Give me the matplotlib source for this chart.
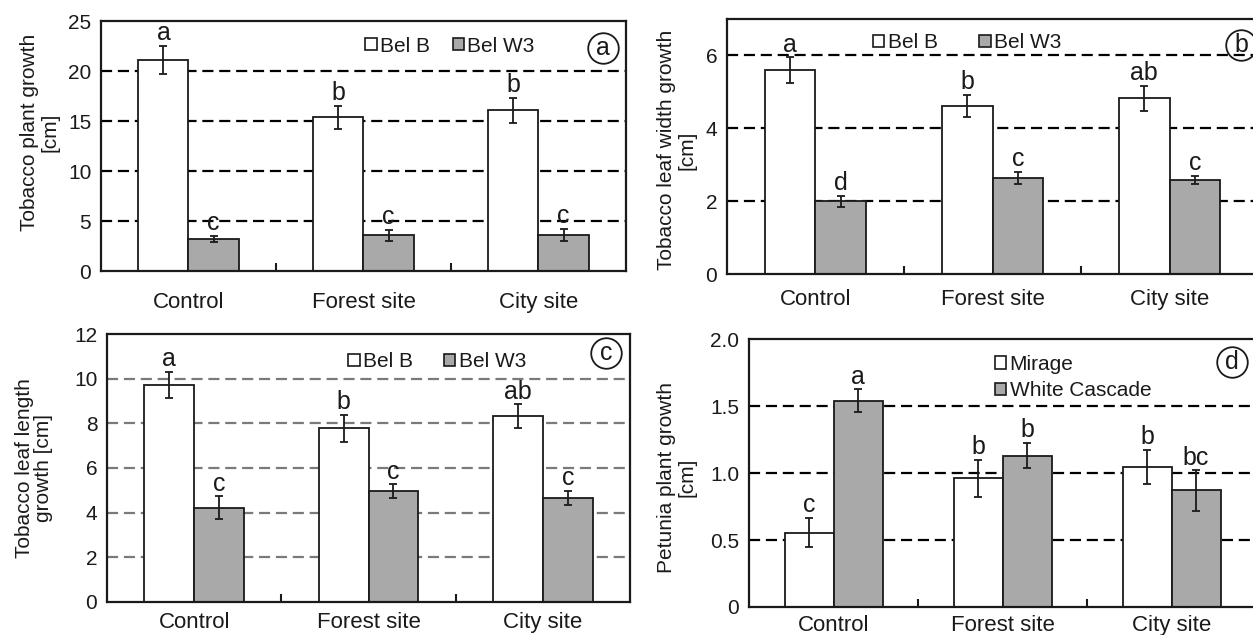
import matplotlib

matplotlib.use("Agg")
import matplotlib.pyplot as plt
import numpy as np
from matplotlib.patches import Patch

INK = "#1a1a1a"
GREY_BAR = "#a9a9a9"

plt.rcParams.update({
    "font.family": ["Liberation Sans", "DejaVu Sans"],
    "text.color": INK,
    "xtick.color": INK,
    "ytick.color": INK,
    "axes.edgecolor": INK,
})

# --------------------------------------------------------------------------- #
# Data
# --------------------------------------------------------------------------- #
CATEGORIES = ["Control", "Forest site", "City site"]

# (a) tobacco plant growth [cm]
A_BELB = [21.1, 15.4, 16.1]
A_BELB_ERR = [1.4, 1.15, 1.25]
A_BELW3 = [3.2, 3.6, 3.65]
A_BELW3_ERR = [0.3, 0.55, 0.6]
A_LET_B = ["a", "b", "b"]
A_LET_W3 = ["c", "c", "c"]

# (b) tobacco leaf width growth [cm]
B_BELB = [5.6, 4.62, 4.82]
B_BELB_ERR = [0.35, 0.3, 0.35]
B_BELW3 = [2.0, 2.63, 2.58]
B_BELW3_ERR = [0.15, 0.17, 0.11]
B_LET_B = ["a", "b", "ab"]
B_LET_W3 = ["d", "c", "c"]

# (c) tobacco leaf length growth [cm]
C_BELB = [9.72, 7.78, 8.33]
C_BELB_ERR = [0.6, 0.6, 0.52]
C_BELW3 = [4.22, 4.97, 4.66]
C_BELW3_ERR = [0.52, 0.3, 0.31]
C_LET_B = ["a", "b", "ab"]
C_LET_W3 = ["c", "c", "c"]

# (d) petunia plant growth [cm]
D_MIRAGE = [0.555, 0.96, 1.045]
D_MIRAGE_ERR = [0.11, 0.14, 0.13]
D_WHITE = [1.54, 1.13, 0.87]
D_WHITE_ERR = [0.085, 0.095, 0.15]
D_LET_M = ["c", "b", "b"]
D_LET_W = ["a", "b", "bc"]

A_TICKS = [0, 5, 10, 15, 20, 25]
B_TICKS = [0, 2, 4, 6]
C_TICKS = [0, 2, 4, 6, 8, 10, 12]
D_TICKS = [0, 0.5, 1.0, 1.5, 2.0]
D_TICKLABELS = ["0", "0.5", "1.0", "1.5", "2.0"]


def draw_panel(ax, s1, e1, s2, e2, let1, let2, ylim, yticks, grid, names,
               grid_color="black", bar_w=0.286, xpad=12, yticklabels=None):
    x = np.arange(len(CATEGORIES))
    for g in grid:
        ax.axhline(g, color=grid_color, lw=1.6, ls=(0, (5, 2.6)), zorder=0)
    ax.bar(x - bar_w / 2, s1, bar_w, color="white", edgecolor=INK, lw=1.3,
           label=names[0], zorder=2)
    ax.bar(x + bar_w / 2, s2, bar_w, color=GREY_BAR, edgecolor=INK, lw=1.3,
           label=names[1], zorder=2)
    for xs, vals, errs, lets in ((x - bar_w / 2, s1, e1, let1), (x + bar_w / 2, s2, e2, let2)):
        ax.errorbar(xs, vals, yerr=errs, fmt="none", ecolor=INK, elinewidth=1.3,
                    capsize=3.2, capthick=1.3, zorder=3)
        for xi, v, e, t in zip(xs, vals, errs, lets):
            ax.annotate(t, (xi, v + e), xytext=(0, 4), textcoords="offset points",
                        ha="center", va="baseline", fontsize=18, zorder=4)
    ax.set_xlim(-0.5, len(CATEGORIES) - 0.5)
    ax.set_ylim(*ylim)
    ax.set_yticks(yticks)
    if yticklabels is not None:
        ax.set_yticklabels(yticklabels)
    ax.tick_params(axis="y", length=0, labelsize=15, pad=7)
    ax.set_xticks(x[:-1] + 0.5)
    ax.set_xticklabels([])
    ax.tick_params(axis="x", which="major", direction="in", length=6, width=1.5)
    ax.set_xticks(x, CATEGORIES, minor=True)
    ax.tick_params(axis="x", which="minor", length=0, labelsize=16, pad=xpad)
    for sp in ax.spines.values():
        sp.set_linewidth(1.6)


def circled(ax, letter, xy):
    ax.plot([xy[0]], [xy[1]], marker="o", ms=22, mfc="none", mec=INK, mew=1.3,
            transform=ax.transAxes, clip_on=False)
    ax.text(xy[0], xy[1], letter, transform=ax.transAxes, ha="center", va="center",
            fontsize=18)


def legend(ax, anchor, ncol, colsp, loc="center left"):
    handles = [Patch(facecolor="white", edgecolor=INK, lw=1.2),
               Patch(facecolor=GREY_BAR, edgecolor=INK, lw=1.2)]
    names = ax.get_legend_handles_labels()[1]
    ax.legend(handles, names, loc=loc, bbox_to_anchor=anchor, ncol=ncol,
              frameon=False, fontsize=15, handlelength=0.55, handleheight=0.55,
              handletextpad=0.15, columnspacing=colsp, borderpad=0,
              borderaxespad=0, labelspacing=0.35)


fig = plt.figure(figsize=(12.53, 6.35), dpi=100)

ax_a = fig.add_axes([0.0806, 0.5732, 0.4190, 0.3937])
ax_b = fig.add_axes([0.5802, 0.5685, 0.4238, 0.4016])
ax_c = fig.add_axes([0.0854, 0.0520, 0.4174, 0.4220])
ax_d = fig.add_axes([0.5978, 0.0441, 0.4046, 0.4220])

draw_panel(ax_a, A_BELB, A_BELB_ERR, A_BELW3, A_BELW3_ERR, A_LET_B, A_LET_W3,
           (0, 25), A_TICKS, A_TICKS[1:-1], ["Bel B", "Bel W3"], xpad=15)
draw_panel(ax_b, B_BELB, B_BELB_ERR, B_BELW3, B_BELW3_ERR, B_LET_B, B_LET_W3,
           (0, 7), B_TICKS, B_TICKS[1:], ["Bel B", "Bel W3"], xpad=11)
draw_panel(ax_c, C_BELB, C_BELB_ERR, C_BELW3, C_BELW3_ERR, C_LET_B, C_LET_W3,
           (0, 12), C_TICKS, C_TICKS[1:-1], ["Bel B", "Bel W3"],
           grid_color="#7a7a7a", xpad=7)
draw_panel(ax_d, D_MIRAGE, D_MIRAGE_ERR, D_WHITE, D_WHITE_ERR, D_LET_M, D_LET_W,
           (0, 2.0), D_TICKS, D_TICKS[1:-1], ["Mirage", "White Cascade"],
           bar_w=0.29, xpad=6, yticklabels=D_TICKLABELS)

legend(ax_a, (0.503, 0.90), 2, 1.1)
legend(ax_b, (0.275, 0.906), 2, 2.0)
legend(ax_c, (0.461, 0.896), 2, 1.5)
legend(ax_d, (0.485, 0.856), 1, 1.0)

circled(ax_a, "a", (0.957, 0.892))
circled(ax_b, "b", (0.968, 0.898))
circled(ax_c, "c", (0.954, 0.929))
circled(ax_d, "d", (0.953, 0.914))

fig.text(0.032, 0.792, "Tobacco plant growth\n[cm]", rotation=90, ha="center",
         va="center", multialignment="center", fontsize=15, linespacing=1.1)
fig.text(0.540, 0.764, "Tobacco leaf width growth\n[cm]", rotation=90, ha="center",
         va="center", multialignment="center", fontsize=15, linespacing=1.1)
fig.text(0.027, 0.263, "Tobacco leaf length\ngrowth [cm]", rotation=90, ha="center",
         va="center", multialignment="center", fontsize=15, linespacing=1.0)
fig.text(0.540, 0.248, "Petunia plant growth\n[cm]", rotation=90, ha="center",
         va="center", multialignment="center", fontsize=15, linespacing=1.1)

fig.savefig("out.png", dpi=100, facecolor="white")
